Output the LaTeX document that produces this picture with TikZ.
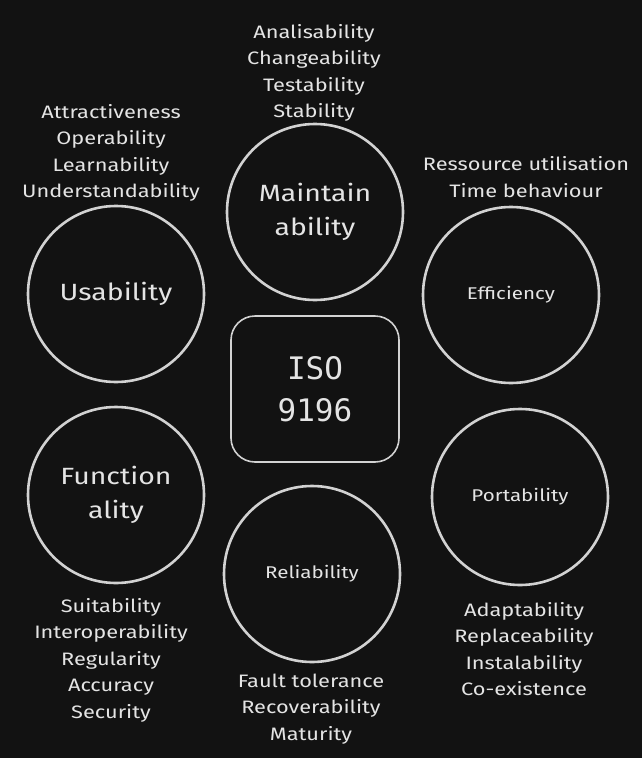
\documentclass[tikz,border=0pt]{standalone}
\usepackage{fontspec}
\setmainfont[FakeStretch=1.21]{Fira Sans}
\newfontfamily\isofont{DejaVu Sans Mono}
\definecolor{bgdark}{HTML}{121212}
\definecolor{ink}{HTML}{D2D2D2}
\definecolor{txt}{HTML}{E4E4E4}

\tikzset{
  quality/.style={draw=ink, circle, line width=2.6pt, minimum size=176pt, inner sep=0pt, text=txt, align=center},
  bigname/.style={font=\fontsize{23.5}{34}\selectfont},
  smallname/.style={font=\fontsize{17}{20}\selectfont},
  attrs/.style={text=txt, align=center, inner sep=0pt, font=\fontsize{18}{26.5}\selectfont}
}

\begin{document}
\begin{tikzpicture}[x=1pt,y=-1pt]
  % Background
  \fill[bgdark] (0,0) rectangle (642,758);
  \useasboundingbox (0,0) rectangle (642,758);

  % Standard in the middle
  \node[draw=ink, rectangle, rounded corners=24pt, line width=1.6pt, minimum width=168pt, minimum height=146pt, text=txt, align=center, font=\isofont\fontsize{31}{42}\selectfont] (iso) at (315,389) {ISO\\9196};

  % Maintainability
  \node[quality, bigname] (maint) at (315,212) {Maintain\\ability};
  \node[attrs] (maintattrs) at (314,73) {Analisability\\Changeability\\Testability\\Stability};

  % Usability
  \node[quality, bigname] (usab) at (116,294) {Usability};
  \node[attrs] (usabattrs) at (111,153) {Attractiveness\\Operability\\Learnability\\Understandability};

  % Efficiency
  \node[quality, smallname] (effic) at (511,295) {Efficiency};
  \node[attrs] (efficattrs) at (526,177) {Ressource utilisation\\Time behaviour};

  % Functionality
  \node[quality, bigname] (funct) at (116,495) {Function\\ality};
  \node[attrs] (functattrs) at (111,660) {Suitability\\Interoperability\\Regularity\\Accuracy\\Security};

  % Reliability
  \node[quality, smallname] (relia) at (312,574) {Reliability};
  \node[attrs] (reliaattrs) at (311,709) {Fault tolerance\\Recoverability\\Maturity};

  % Portability
  \node[quality, smallname] (porta) at (520,497) {Portability};
  \node[attrs] (portaattrs) at (524,649) {Adaptability\\Replaceability\\Instalability\\Co-existence};
\end{tikzpicture}
\end{document}
